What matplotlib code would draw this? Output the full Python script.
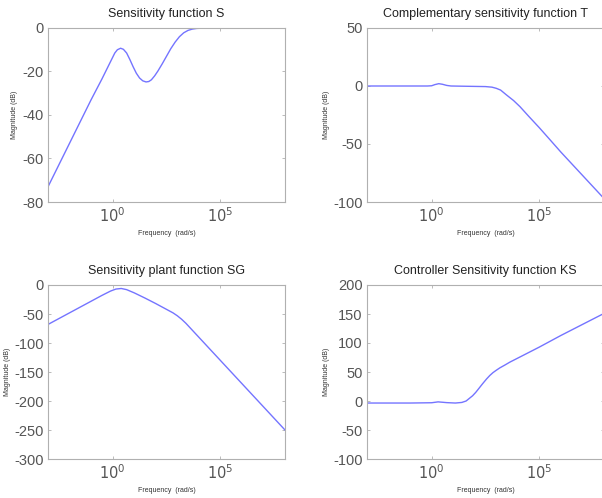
import matplotlib
matplotlib.use("Agg")
import matplotlib.pyplot as plt
import numpy as np

plt.rcParams['font.family'] = ['Liberation Sans', 'DejaVu Sans']
plt.rcParams['axes.unicode_minus'] = False

# Data: log10(frequency) and magnitude (dB)
s_logw = [-3, -2, -1, -0.5, -0.25, -0.05, 0.1, 0.22, 0.37, 0.5, 0.65, 0.8, 0.95, 1.1, 1.25, 1.4,
          1.55, 1.68, 1.8, 1.95, 2.1, 2.3, 2.5, 2.7, 2.9, 3.1, 3.3, 3.5, 3.7, 3.9, 4.2, 4.5, 8]
s_mag = [-73, -53, -33, -23.5, -18.5, -14.5, -11.5, -10, -9.3, -9.8, -11.5, -14.5, -17.8, -20.8, -23, -24.3,
         -24.8, -24.6, -23.8, -22, -19.8, -16.5, -13, -9.5, -6.5, -4, -2.2, -1.1, -0.5, -0.2, -0.05, 0, 0]

t_logw = [-3, -1, -0.2, 0.0, 0.15, 0.33, 0.5, 0.7, 0.9, 1.5, 2.5, 2.8, 3.0, 3.2, 3.48, 3.8, 4.1, 4.5,
          5, 5.43, 6, 7, 8]
t_mag = [0, 0, 0, 0.2, 1.2, 2, 1.5, 0.5, 0, -0.2, -0.5, -1, -2, -3.5, -7.8, -12.5, -17.8, -26,
         -36, -45, -57, -77, -97]

sg_logw = [-3, -2, -1, -0.5, -0.1, 0.15, 0.4, 0.65, 1, 1.5, 2, 2.5, 2.8, 3.0, 3.2, 3.4, 3.7, 4,
           5, 6, 7, 8]
sg_mag = [-68, -48, -28, -18, -10.5, -7, -6, -8, -13.5, -22.5, -32, -42, -48, -53, -59, -66, -78, -90,
          -130, -170, -210, -250]

ks_logw = [-3, -1, 0, 0.3, 0.7, 1.1, 1.4, 1.6, 1.75, 1.9, 2.05, 2.2, 2.37, 2.55, 2.7, 2.85, 3.0,
           3.16, 3.4, 3.63, 4, 5, 6, 7, 8]
ks_mag = [-3.5, -3.5, -3, -1.5, -2.8, -3.5, -2.5, 0, 4.5, 9, 15, 22, 30, 38, 44, 49, 53,
          57, 62, 67, 74, 93, 113, 132, 151]

titles = ['Sensitivity function S', 'Complementary sensitivity function T',
          'Sensitivity plant function SG', 'Controller Sensitivity function KS']
ylims = [(-80, 0), (-100, 50), (-300, 0), (-100, 200)]
yticks = [[-80, -60, -40, -20, 0], [-100, -50, 0, 50],
          [-300, -250, -200, -150, -100, -50, 0], [-100, -50, 0, 50, 100, 150, 200]]
xticks = [1e0, 1e5]
xlabels = ['$10^0$', '$10^5$']

series = [(s_logw, s_mag), (t_logw, t_mag), (sg_logw, sg_mag), (ks_logw, ks_mag)]

fig = plt.figure(figsize=(6.02, 4.98), dpi=100)
# axes rectangles in figure fraction (left, bottom, width, height)
rects = [(48/602, 1 - 202/498, 237/602, 174/498),
         (367/602, 1 - 202/498, 237/602, 174/498),
         (48/602, 1 - 459/498, 237/602, 174/498),
         (367/602, 1 - 459/498, 237/602, 174/498)]
ylabel_x = [-0.127, -0.156, -0.156, -0.156]

for i in range(4):
    ax = fig.add_axes(rects[i])
    lw, mag = series[i]
    ax.semilogx(10.0 ** np.array(lw), mag, color='#7474ff', linewidth=1.0)
    ax.set_xlim(1e-3, 1e8)
    ax.set_ylim(*ylims[i])
    ax.set_yticks(yticks[i])
    ax.set_xticks(xticks)
    ax.set_xticklabels(xlabels)
    ax.minorticks_off()
    ax.tick_params(direction='in', top=True, right=True, length=2, width=0.6,
                   colors='#b0b0b0', labelcolor='#555555', labelsize=10.5, pad=3)
    for sp in ax.spines.values():
        sp.set_color('#b0b0b0')
        sp.set_linewidth(0.8)
    ax.set_title(titles[i], fontsize=9, color='#222222', pad=8)
    ax.set_xlabel('Frequency  (rad/s)', fontsize=5, color='#333333', labelpad=4)
    ax.set_ylabel('Magnitude (dB)', fontsize=5, color='#333333')
    ax.yaxis.set_label_coords(ylabel_x[i], 0.5)

fig.savefig('out.png', dpi=100)
